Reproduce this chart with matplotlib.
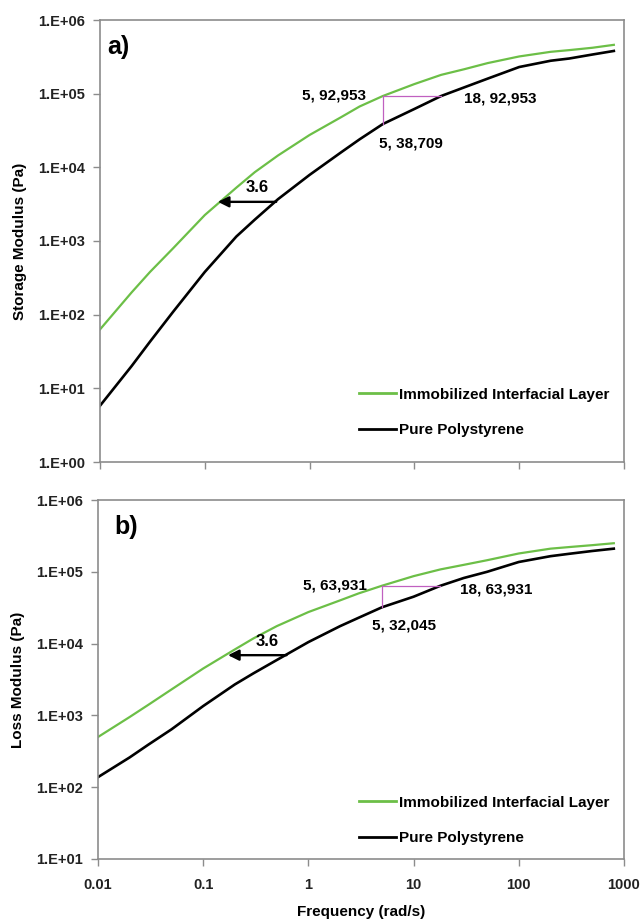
import numpy as np
import matplotlib
matplotlib.use("Agg")
import matplotlib.pyplot as plt
from matplotlib.ticker import FixedLocator, FixedFormatter, NullLocator

plt.rcParams['font.family'] = ['Liberation Sans', 'DejaVu Sans']
plt.rcParams['font.weight'] = 'bold'

# ---- data ----
freq = [0.01, 0.02, 0.03, 0.05, 0.1, 0.2, 0.3, 0.5, 1, 2, 3, 5, 10, 18,
        30, 50, 100, 200, 300, 500, 800]

storage_interfacial = [63, 200, 380, 800, 2250, 5300, 8600, 14500, 27500,
                       48000, 67000, 92953, 135000, 180000, 215000, 260000,
                       320000, 370000, 390000, 420000, 460000]
storage_pure = [5.8, 20, 43, 110, 380, 1150, 1950, 3700, 7900, 16000, 24000,
                38709, 62000, 92953, 122000, 160000, 230000, 280000, 300000,
                340000, 380000]

loss_interfacial = [500, 950, 1400, 2300, 4500, 8300, 11800, 17500, 27500,
                    40000, 50000, 63931, 87000, 108000, 125000, 145000,
                    180000, 210000, 221000, 235000, 250000]
loss_pure = [138, 260, 390, 640, 1350, 2700, 3850, 5900, 10500, 17500, 22900,
             32045, 45000, 63931, 82000, 100000, 137000, 165000, 178000,
             195000, 210000]

series_names = ["Immobilized Interfacial Layer", "Pure Polystyrene"]
x_ticks = [0.01, 0.1, 1, 10, 100, 1000]
x_ticklabels = ["0.01", "0.1", "1", "10", "100", "1000"]

# annotations (shift factor, arrow levels)
shift_label = "3.6"
shift_factor = 3.6
storage_arrow = dict(y=3400, x_tail=0.48)
loss_arrow = dict(y=6900, x_tail=0.62)
storage_marks = dict(x1=5, x2=18, g=92953, p=38709,
                     labels=["5, 92,953", "18, 92,953", "5, 38,709"])
loss_marks = dict(x1=5, x2=18, g=63931, p=32045,
                  labels=["5, 63,931", "18, 63,931", "5, 32,045"])

GREEN = "#6cbf47"
GRAY = "#8c8c8c"
MAGENTA = "#c060c0"

fig = plt.figure(figsize=(6.42, 9.19), dpi=100)
ax1 = fig.add_axes([100/642, 1-462/919, 524/642, 442/919])
ax2 = fig.add_axes([98/642, 1-859/919, 526/642, 359/919])


def style(ax, ymin, ymax, show_xlabels):
    ax.set_xscale('log')
    ax.set_yscale('log')
    ax.set_xlim(0.01, 1000)
    ax.set_ylim(ymin, ymax)
    ax.xaxis.set_major_locator(FixedLocator(x_ticks))
    ax.xaxis.set_minor_locator(NullLocator())
    if show_xlabels:
        ax.xaxis.set_major_formatter(FixedFormatter(x_ticklabels))
    else:
        ax.xaxis.set_major_formatter(FixedFormatter([""] * len(x_ticks)))
    exps = list(range(int(np.log10(ymin)), int(np.log10(ymax)) + 1))
    ax.yaxis.set_major_locator(FixedLocator([10.0 ** e for e in exps]))
    ax.yaxis.set_major_formatter(FixedFormatter(["1.E%+03d" % e for e in exps]))
    ax.yaxis.set_minor_locator(NullLocator())
    for s in ax.spines.values():
        s.set_color(GRAY)
        s.set_linewidth(1.2)
    ax.tick_params(axis='both', which='major', direction='out', length=5,
                   width=1.0, color=GRAY, labelsize=10.5)
    ax.tick_params(axis='y', pad=6)
    ax.tick_params(axis='x', pad=9)
    for lab in ax.get_xticklabels() + ax.get_yticklabels():
        lab.set_fontweight('bold')
        lab.set_color('#222222')


def draw(ax, g, p, arrow, marks, offsets, text_off):
    ax.plot(freq, g, color=GREEN, lw=1.6, label=series_names[0])
    ax.plot(freq, p, color='black', lw=1.9, label=series_names[1])
    # shift arrow
    xt = arrow['x_tail']
    xh = xt / shift_factor
    ax.annotate("", xy=(xh, arrow['y']), xytext=(xt, arrow['y']),
                arrowprops=dict(arrowstyle='-|>', color='black', lw=1.7,
                                mutation_scale=16, shrinkA=0, shrinkB=0))
    ax.annotate(shift_label, xy=(np.sqrt(xt * xh), arrow['y']),
                xytext=text_off, textcoords='offset points',
                ha='center', va='center', fontsize=12, fontweight='bold')
    # magenta triangle
    ax.plot([marks['x1'], marks['x1']], [marks['p'], marks['g']],
            color=MAGENTA, lw=0.9)
    ax.plot([marks['x1'], marks['x2']], [marks['g'], marks['g']],
            color=MAGENTA, lw=0.9)
    l1, l2, l3 = marks['labels']
    o1, o2, o3 = offsets
    ax.annotate(l1, xy=(marks['x1'], marks['g']), xytext=o1,
                textcoords='offset points', ha='right', va='center',
                fontsize=11, fontweight='bold')
    ax.annotate(l2, xy=(marks['x2'], marks['g']), xytext=o2,
                textcoords='offset points', ha='left', va='center',
                fontsize=11, fontweight='bold')
    ax.annotate(l3, xy=(marks['x1'], marks['p']), xytext=o3,
                textcoords='offset points', ha='left', va='center',
                fontsize=11, fontweight='bold')


style(ax1, 1, 1e6, False)
style(ax2, 10, 1e6, True)

draw(ax1, storage_interfacial, storage_pure, storage_arrow, storage_marks,
     [(-12, 0.5), (16.5, -2), (-3, -14)], (7, 10))
draw(ax2, loss_interfacial, loss_pure, loss_arrow, loss_marks,
     [(-11, 0.5), (14, -3), (-7, -13)], (7, 10))

ax1.text(0.013, 0.966, "a)", transform=ax1.transAxes, fontsize=18,
         fontweight='bold', va='top', ha='left')
ax2.text(0.032, 0.958, "b)", transform=ax2.transAxes, fontsize=18,
         fontweight='bold', va='top', ha='left')

ax1.set_ylabel("Storage Modulus (Pa)", fontsize=11, fontweight='bold', labelpad=8)
ax2.set_ylabel("Loss Modulus (Pa)", fontsize=11, fontweight='bold', labelpad=8)
ax2.set_xlabel("Frequency (rad/s)", fontsize=11, fontweight='bold', labelpad=9)

for ax, yanchor in ((ax1, 25/442), (ax2, 14/359)):
    leg = ax.legend(loc='lower right', bbox_to_anchor=(1 - 15/524, yanchor),
                    frameon=False, fontsize=11, borderpad=0, borderaxespad=0,
                    handlelength=2.4, handletextpad=0.2, labelspacing=1.4)
    for t in leg.get_texts():
        t.set_fontweight('bold')
    for h in leg.get_lines():
        h.set_linewidth(2.0)

fig.savefig("out.png", dpi=100, facecolor='white')
